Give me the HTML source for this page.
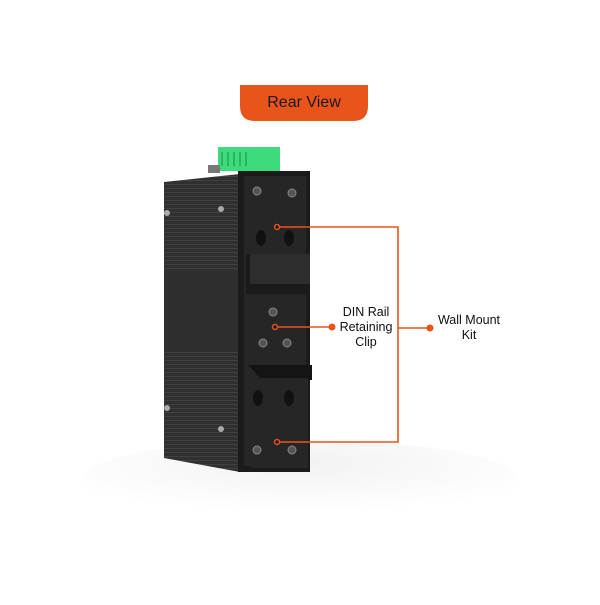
<!DOCTYPE html>
<html><head><style>
body{margin:0;width:600px;height:600px;background:#fff;overflow:hidden;font-family:"Liberation Sans",sans-serif}
</style></head><body>
<svg width="600" height="600" viewBox="0 0 600 600" xmlns="http://www.w3.org/2000/svg">
<defs>
<pattern id="rib" width="4" height="4" patternUnits="userSpaceOnUse"><rect width="4" height="4" fill="#303030"/><rect width="4" height="1" fill="#404040"/></pattern>
<radialGradient id="floor" cx="0.5" cy="0.3" r="0.6"><stop offset="0" stop-color="#f2f2f2"/><stop offset="1" stop-color="#fff"/></radialGradient>
</defs>
<ellipse cx="300" cy="480" rx="220" ry="40" fill="url(#floor)"/>
<path d="M240 85 H368 V106 Q368 121 353 121 H255 Q240 121 240 106 Z" fill="#e8541a"/>
<text x="304" y="107" font-size="16" text-anchor="middle" fill="#1a1a1a">Rear View</text>
<rect x="218" y="147" width="62" height="24" fill="#3ddb7c"/>
<g stroke="#1c8a4a" stroke-width="1"><line x1="222" y1="152" x2="222" y2="166"/><line x1="228" y1="152" x2="228" y2="166"/><line x1="234" y1="152" x2="234" y2="166"/><line x1="240" y1="152" x2="240" y2="166"/><line x1="246" y1="152" x2="246" y2="166"/></g>
<rect x="208" y="165" width="12" height="8" fill="#777"/>
<path d="M164 182 L240 174 V472 L164 458 Z" fill="url(#rib)"/>
<rect x="164" y="272" width="76" height="80" fill="#2e2e2e"/>
<circle cx="167" cy="213" r="3" fill="#aaa"/><circle cx="221" cy="209" r="3" fill="#aaa"/>
<circle cx="167" cy="408" r="3" fill="#aaa"/><circle cx="221" cy="429" r="3" fill="#aaa"/>
<rect x="238" y="171" width="72" height="301" fill="#1b1b1b"/>
<rect x="244" y="176" width="62" height="290" fill="#262626"/>
<rect x="246" y="254" width="64" height="40" fill="#1a1a1a"/>
<rect x="250" y="254" width="60" height="30" fill="#2d2d2d"/>
<path d="M248 365 L312 365 V380 L262 380 Z" fill="#141414"/>
<rect x="250" y="378" width="58" height="90" fill="#262626"/>
<g fill="#111"><ellipse cx="261" cy="238" rx="5" ry="8"/><ellipse cx="289" cy="238" rx="5" ry="8"/><ellipse cx="258" cy="398" rx="5" ry="8"/><ellipse cx="289" cy="398" rx="5" ry="8"/></g>
<g fill="#555" stroke="#888" stroke-width="1"><circle cx="257" cy="191" r="4"/><circle cx="292" cy="193" r="4"/><circle cx="273" cy="312" r="4"/><circle cx="263" cy="343" r="4"/><circle cx="287" cy="343" r="4"/><circle cx="257" cy="450" r="4"/><circle cx="292" cy="450" r="4"/></g>
<g stroke="#e8541a" stroke-width="1.6" fill="none">
<polyline points="277,227 398,227 398,442 277,442"/>
<line x1="398" y1="328" x2="430" y2="328"/>
<line x1="275" y1="327" x2="332" y2="327"/>
</g>
<g fill="#e8541a"><circle cx="430" cy="328" r="3.5"/><circle cx="332" cy="327" r="3.5"/></g>
<g fill="#1b1b1b" stroke="#e8541a" stroke-width="1.5"><circle cx="277" cy="227" r="2.5"/><circle cx="277" cy="442" r="2.5"/><circle cx="275" cy="327" r="2.5"/></g>
<g font-size="12.5" fill="#111" text-anchor="middle">
<text x="366" y="316">DIN  Rail</text><text x="366" y="331">Retaining</text><text x="366" y="346">Clip</text>
<text x="469" y="324">Wall Mount</text><text x="469" y="339">Kit</text>
</g>
</svg>
</body></html>
